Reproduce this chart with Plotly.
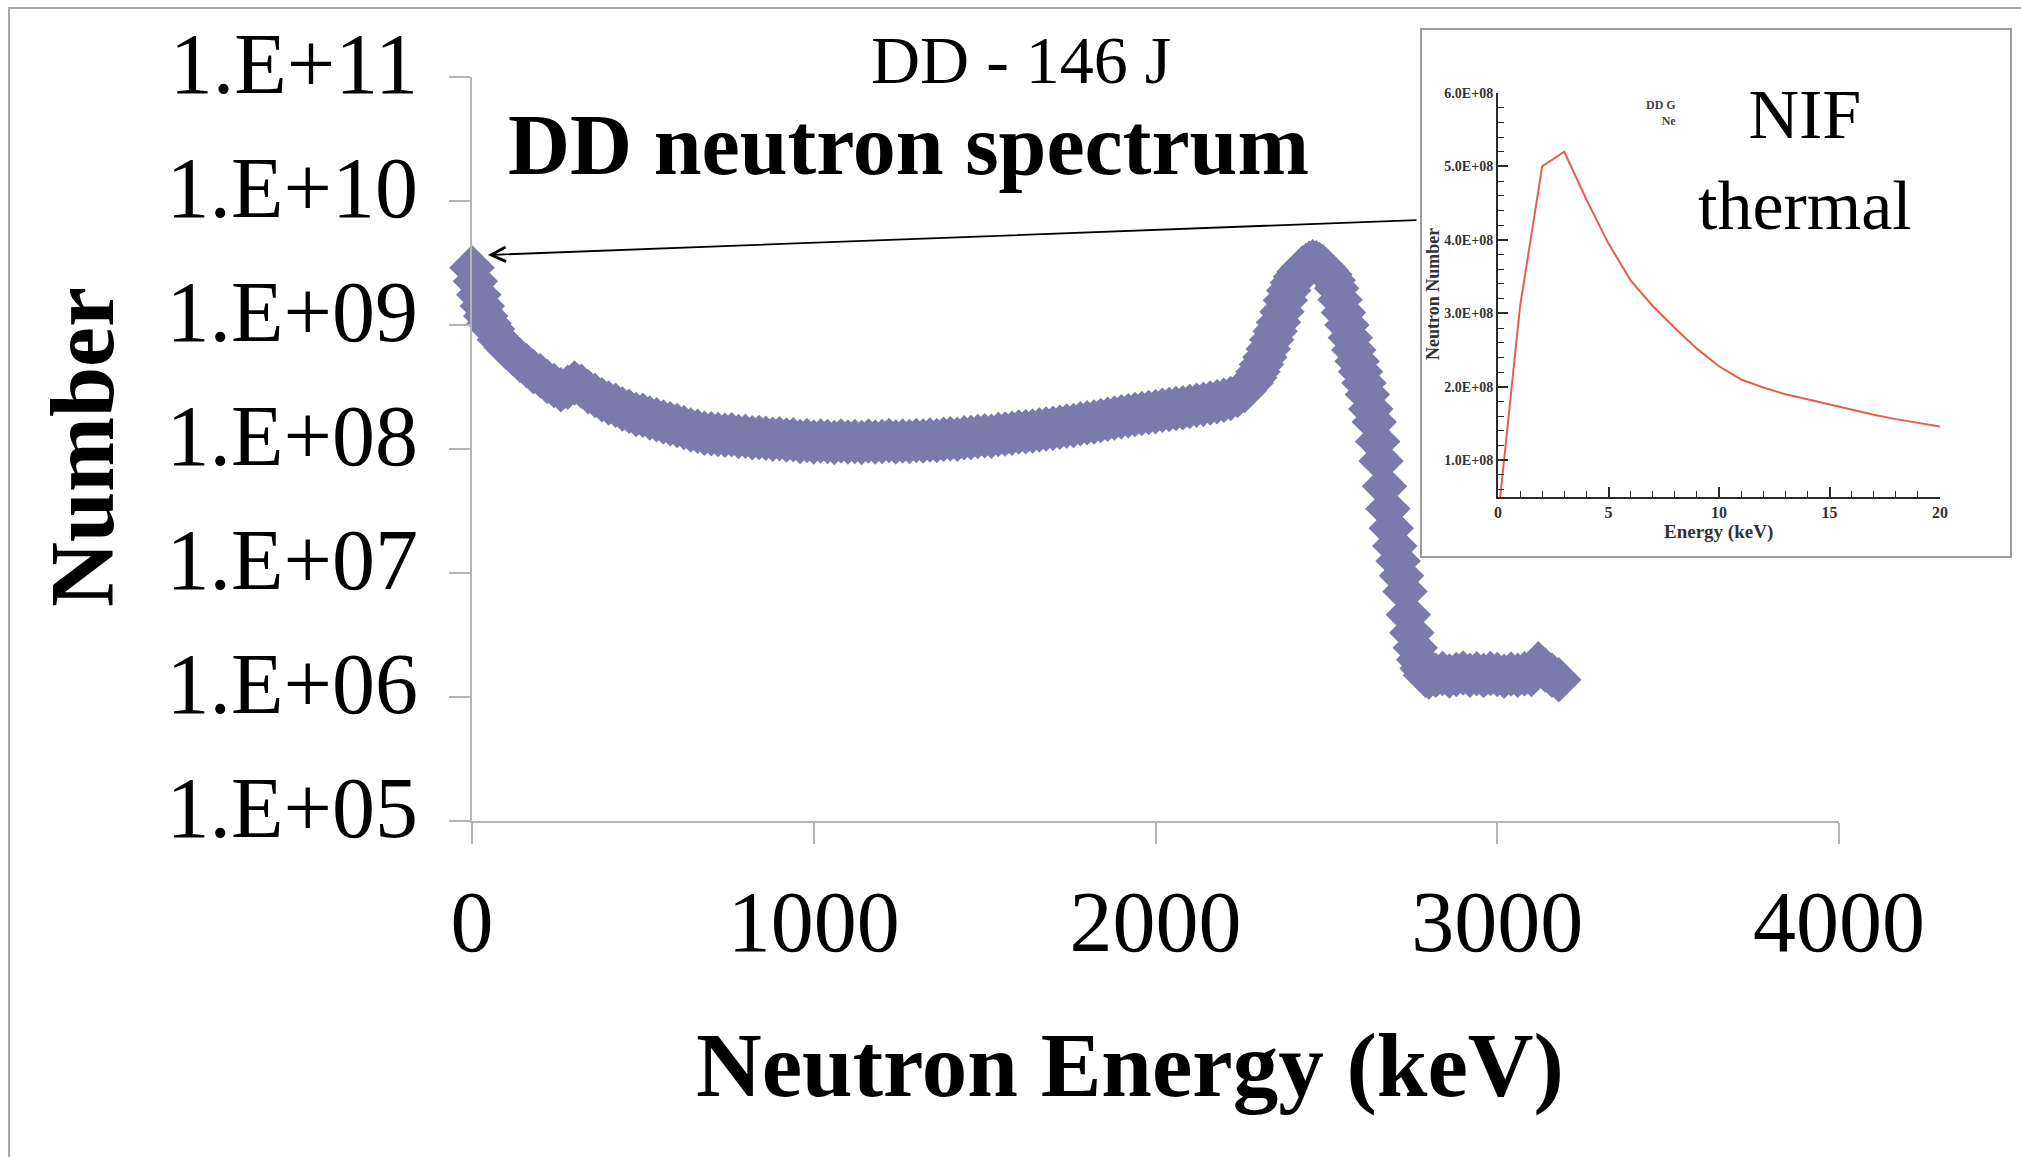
import plotly.graph_objects as go

W, H = 2021, 1157

# ---------------- data ----------------
energy_kev = (
    [0, 10, 20, 30, 40, 50, 60]
    + list(range(80, 2280, 20))
    + list(range(2280, 2800, 10))
    + list(range(2800, 3200, 20))
)
number = [
    # 0 - 60 (10 keV)
    2.9e9, 2.25e9, 1.75e9, 1.42e9, 1.18e9, 1.03e9, 9.3e8,
    # 80 - 2260 (20 keV)
    7.6e8, 6.6e8, 5.9e8, 5.2e8, 4.7e8, 4.2e8,
    3.9e8, 3.5e8, 3.25e8, 3.0e8, 3.15e8, 3.4e8, 3.2e8, 2.9e8, 2.7e8, 2.5e8,
    2.35e8, 2.25e8, 2.1e8, 2.02e8, 1.9e8, 1.87e8, 1.78e8, 1.72e8, 1.65e8, 1.6e8,
    1.55e8, 1.49e8, 1.42e8, 1.39e8, 1.34e8, 1.33e8, 1.31e8, 1.29e8, 1.3e8, 1.26e8,
    1.27e8, 1.23e8, 1.24e8, 1.22e8, 1.2e8, 1.21e8, 1.18e8, 1.19e8, 1.15e8, 1.17e8,
    1.14e8, 1.16e8, 1.15e8, 1.13e8, 1.16e8, 1.14e8, 1.15e8, 1.13e8, 1.16e8, 1.14e8,
    1.15e8, 1.17e8, 1.14e8, 1.16e8, 1.15e8, 1.17e8, 1.16e8, 1.18e8, 1.17e8, 1.2e8,
    1.21e8, 1.2e8, 1.23e8, 1.24e8, 1.26e8, 1.28e8, 1.27e8, 1.31e8, 1.32e8, 1.34e8,
    1.37e8, 1.38e8, 1.4e8, 1.42e8, 1.45e8, 1.47e8, 1.5e8, 1.53e8, 1.55e8, 1.6e8,
    1.63e8, 1.65e8, 1.7e8, 1.74e8, 1.78e8, 1.82e8, 1.85e8, 1.9e8, 1.93e8, 1.97e8,
    2.0e8, 2.05e8, 2.08e8, 2.12e8, 2.15e8, 2.2e8, 2.25e8, 2.3e8, 2.35e8, 2.4e8,
    2.47e8, 2.55e8, 2.7e8, 2.95e8,
    # 2280 - 2790 (10 keV)
    3.4e8, 3.75e8, 4.2e8, 4.8e8, 5.5e8, 6.4e8, 7.6e8, 8.9e8, 1.05e9, 1.28e9,
    1.58e9, 1.9e9, 2.19e9, 2.45e9, 2.69e9, 2.88e9, 3.02e9, 3.15e9, 3.24e9, 3.18e9,
    3.08e9, 2.95e9, 2.75e9, 2.55e9, 2.3e9, 1.98e9, 1.6e9, 1.26e9, 1.0e9, 7.9e8,
    6.3e8, 5.1e8, 4.2e8, 3.4e8, 2.75e8, 2.1e8, 1.65e8, 1.15e8, 8.0e7, 5.0e7,
    3.3e7, 2.3e7, 1.65e7, 1.25e7, 9.5e6, 7.1e6, 4.6e6, 3.3e6, 2.5e6, 2.0e6,
    1.7e6, 1.5e6,
    # 2800 - 3180 (20 keV)
    1.45e6, 1.5e6, 1.55e6, 1.48e6, 1.52e6, 1.56e6, 1.5e6, 1.54e6, 1.49e6, 1.55e6,
    1.52e6, 1.47e6, 1.53e6, 1.5e6, 1.54e6, 1.52e6, 1.85e6, 1.65e6, 1.5e6, 1.38e6,
]

y_tickvals = [1e5, 1e6, 1e7, 1e8, 1e9, 1e10, 1e11]
y_ticktext = ["1.E+05", "1.E+06", "1.E+07", "1.E+08", "1.E+09", "1.E+10", "1.E+11"]
x_tickvals = [0, 1000, 2000, 3000, 4000]

# inset (NIF thermal)
thermal_kev = [0.1, 0.5, 1, 2, 3, 4, 5, 6, 7, 8, 9, 10, 11, 12, 13, 14, 15, 16, 17, 18, 19, 20]
thermal_num = [0.5e8, 1.7e8, 3.1e8, 5.0e8, 5.2e8, 4.55e8, 3.95e8, 3.45e8, 3.1e8, 2.8e8, 2.52e8,
               2.28e8, 2.1e8, 1.99e8, 1.9e8, 1.83e8, 1.76e8, 1.68e8, 1.62e8, 1.56e8, 1.51e8, 1.46e8]
inset_y_tickvals = [1e8, 2e8, 3e8, 4e8, 5e8, 6e8]
inset_y_ticktext = ["1.0E+08", "2.0E+08", "3.0E+08", "4.0E+08", "5.0E+08", "6.0E+08"]
inset_x_tickvals = [0, 5, 10, 15, 20]


def px(x):
    return x / W


def py(y):
    return 1 - y / H


SERIF = "Liberation Serif"
AXIS_GRAY = "#B4B4B4"
INK = "#2b2b2b"

fig = go.Figure()

fig.add_trace(go.Scatter(
    x=energy_kev, y=number, mode="markers",
    marker=dict(symbol="diamond", size=35, color="#7A7BAB", line=dict(width=0)),
    cliponaxis=False, xaxis="x", yaxis="y", showlegend=False,
))

fig.add_trace(go.Scatter(
    x=thermal_kev, y=thermal_num, mode="lines",
    line=dict(color="#E5604A", width=2),
    xaxis="x2", yaxis="y2", showlegend=False, cliponaxis=False,
))

fig.update_layout(
    width=W, height=H, autosize=False,
    margin=dict(l=0, r=0, t=0, b=0, pad=0, autoexpand=False),
    paper_bgcolor="white", plot_bgcolor="rgba(0,0,0,0)",
    font=dict(family=SERIF, color="black"),
    xaxis=dict(
        domain=[px(472), px(1839)], range=[0, 4000],
        tickmode="array", tickvals=x_tickvals,
        showline=True, linecolor=AXIS_GRAY, linewidth=1.5,
        ticks="outside", ticklen=21, tickcolor=AXIS_GRAY, tickwidth=1.5,
        showgrid=False, zeroline=False,
        tickfont=dict(family=SERIF, size=86, color="black"),
        ticklabelstandoff=4,
        anchor="y", automargin=False,
    ),
    yaxis=dict(
        domain=[py(821), py(77)], type="log", range=[5, 11],
        tickmode="array", tickvals=y_tickvals, ticktext=y_ticktext,
        showline=True, linecolor=AXIS_GRAY, linewidth=1.5,
        ticks="outside", ticklen=21, tickcolor=AXIS_GRAY, tickwidth=1.5,
        showgrid=False, zeroline=False,
        tickfont=dict(family=SERIF, size=86, color="black"),
        ticklabelstandoff=14, ticklabelshift=-14,
        anchor="x", automargin=False,
    ),
    xaxis2=dict(
        domain=[px(1498), px(1940)], range=[0, 20],
        tickmode="array", tickvals=inset_x_tickvals,
        showline=True, linecolor=INK, linewidth=2,
        ticks="inside", ticklen=10, tickcolor=INK, tickwidth=2,
        minor=dict(tickmode="linear", tick0=0, dtick=1, ticks="inside", ticklen=6,
                   tickcolor=INK, tickwidth=1),
        showgrid=False, zeroline=False,
        tickfont=dict(family=SERIF, size=16, color="#333", weight="bold"),
        ticklabelstandoff=0,
        anchor="y2", automargin=False,
    ),
    yaxis2=dict(
        domain=[py(497), py(93)], range=[0.5e8, 6.0e8],
        tickmode="array", tickvals=inset_y_tickvals, ticktext=inset_y_ticktext,
        showline=True, linecolor=INK, linewidth=2,
        ticks="inside", ticklen=10, tickcolor=INK, tickwidth=2,
        minor=dict(tickmode="linear", tick0=0, dtick=2e7, ticks="inside", ticklen=6,
                   tickcolor=INK, tickwidth=1),
        showgrid=False, zeroline=False,
        tickfont=dict(family=SERIF, size=14, color="#333", weight="bold"),
        ticklabelstandoff=0,
        anchor="x2", automargin=False,
    ),
)

shapes = [
    # slide border (only left/top visible)
    dict(type="rect", xref="paper", yref="paper",
         x0=px(9), x1=px(2040), y0=py(1180), y1=py(8),
         line=dict(color="#A8A8A8", width=2), fillcolor="rgba(0,0,0,0)", layer="below"),
    # inset frame
    dict(type="rect", xref="paper", yref="paper",
         x0=px(1421), x1=px(2011), y0=py(557), y1=py(29),
         line=dict(color="#9A9A9A", width=2), fillcolor="white", layer="below"),
]
fig.update_layout(shapes=shapes)

annotations = [
    dict(text="Neutron Energy (keV)", x=px(1130), y=py(1065), xref="paper", yref="paper",
         showarrow=False, xanchor="center", yanchor="middle",
         font=dict(family=SERIF, size=91, color="black", weight="bold")),
    dict(text="Number", x=px(82), y=py(447), xref="paper", yref="paper",
         showarrow=False, xanchor="center", yanchor="middle", textangle=-90,
         font=dict(family=SERIF, size=90, color="black", weight="bold")),
    dict(text="DD neutron spectrum", x=px(908), y=py(145), xref="paper", yref="paper",
         showarrow=False, xanchor="center", yanchor="middle",
         font=dict(family=SERIF, size=86, color="black", weight="bold")),
    dict(text="DD - 146 J", x=px(1021), y=py(60), xref="paper", yref="paper",
         showarrow=False, xanchor="center", yanchor="middle",
         font=dict(family=SERIF, size=68, color="black")),
    dict(text="NIF<br>thermal", x=px(1805), y=py(160), xref="paper", yref="paper",
         showarrow=False, xanchor="center", yanchor="middle", align="center",
         font=dict(family=SERIF, size=70, color="black")),
    dict(text="DD G<br>Ne", x=px(1678), y=py(113), xref="paper", yref="paper",
         showarrow=False, xanchor="right", yanchor="middle", align="right",
         font=dict(family=SERIF, size=12, color="#444", weight="bold")),
    dict(text="Neutron Number", x=px(1433), y=py(294), xref="paper", yref="paper",
         showarrow=False, xanchor="center", yanchor="middle", textangle=-90,
         font=dict(family=SERIF, size=18, color="#333", weight="bold")),
    dict(text="Energy (keV)", x=px(1718), y=py(532), xref="paper", yref="paper",
         showarrow=False, xanchor="center", yanchor="middle",
         font=dict(family=SERIF, size=19, color="#333", weight="bold")),
    # arrow from inset to the first point
    dict(text="", x=px(488), y=py(255), xref="paper", yref="paper",
         ax=1418 - 488, ay=220 - 255, axref="pixel", ayref="pixel",
         showarrow=True, arrowhead=5, arrowsize=1.6, arrowwidth=1.8, arrowcolor="black"),
]
fig.update_layout(annotations=annotations)

fig.write_html("out.html")
